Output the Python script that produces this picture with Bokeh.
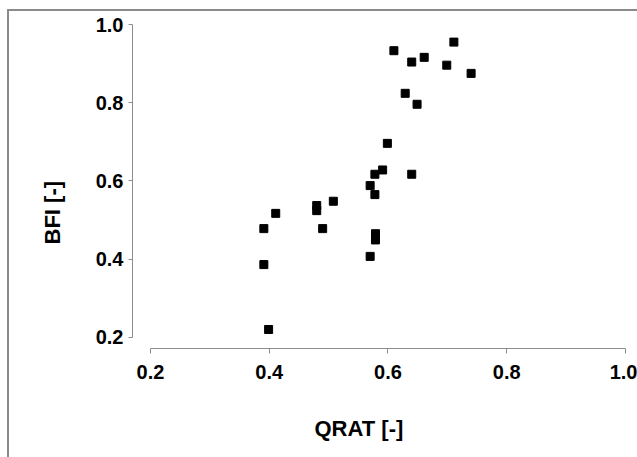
from bokeh.plotting import figure
from bokeh.layouts import column
from bokeh.models import ColumnDataSource, Range1d, FixedTicker, Title
from bokeh.embed import file_html
from bokeh.resources import INLINE

# Baseflow index against discharge ratio, one point per catchment
qrat = [0.711, 0.610, 0.640, 0.661, 0.699, 0.740, 0.629, 0.649, 0.599, 0.591,
        0.578, 0.640, 0.570, 0.578, 0.508, 0.480, 0.480, 0.411, 0.391, 0.490,
        0.579, 0.579, 0.570, 0.391, 0.399]
bfi = [0.955, 0.933, 0.904, 0.916, 0.896, 0.875, 0.824, 0.796, 0.696, 0.628,
       0.617, 0.617, 0.588, 0.565, 0.548, 0.537, 0.524, 0.517, 0.478, 0.478,
       0.465, 0.449, 0.407, 0.386, 0.220]
tick_values = [0.2, 0.4, 0.6, 0.8, 1.0]

FONT = "Liberation Sans"

source = ColumnDataSource(data=dict(qrat=qrat, bfi=bfi))

p = figure(
    width=628, height=446,
    x_range=Range1d(0.1698, 1.0), y_range=Range1d(0.1714, 1.0),
    output_backend="svg", toolbar_location=None,
    min_border_left=121, min_border_right=12,
    min_border_top=13, min_border_bottom=109,
)
p.border_fill_color = None
p.background_fill_color = None
p.outline_line_color = None
p.xgrid.visible = False
p.ygrid.visible = False

p.scatter("qrat", "bfi", source=source, marker="square", size=8,
          fill_color="black", line_color="black")

for ax in (p.xaxis[0], p.yaxis[0]):
    ax.bounds = (0.2, 1.0)
    ax.ticker = FixedTicker(ticks=tick_values)
    ax.minor_tick_line_color = None
    ax.axis_line_color = "#8c8c8c"
    ax.major_tick_line_color = "#8c8c8c"
    ax.major_tick_in = 0
    ax.major_label_text_font = FONT
    ax.major_label_text_font_style = "bold"
    ax.major_label_text_font_size = "20px"
    ax.major_label_text_color = "black"

p.xaxis.major_tick_out = 5
p.xaxis.major_label_standoff = 11
p.yaxis.major_tick_out = 4
p.yaxis.major_label_standoff = 5
p.xaxis.major_label_overrides = {v: f"{v:.1f}" for v in tick_values}
p.yaxis.major_label_overrides = {v: f"{v:.1f}" for v in tick_values}

# Axis titles as side titles, offset along each axis; the x title sits on
# the second line of its box so it hangs lower under the tick labels
x_title = Title(text="\nQRAT [-]", align="left", offset=182, standoff=14,
                text_font=FONT, text_font_style="bold", text_font_size="22px",
                text_color="black")
y_title = Title(text="BFI [-]", align="left", offset=104, standoff=56,
                text_font=FONT, text_font_style="bold", text_font_size="22px",
                text_color="black")
p.add_layout(x_title, "below")
p.add_layout(y_title, "left")

# Page frame: grey rule along the top and left edges
root = column(p, styles={
    "margin-left": "7px", "margin-top": "9px",
    "border-left": "2px solid #8a8a8a", "border-top": "2px solid #8a8a8a",
    "background": "white",
})

open("out.html", "w").write(file_html(root, INLINE))
